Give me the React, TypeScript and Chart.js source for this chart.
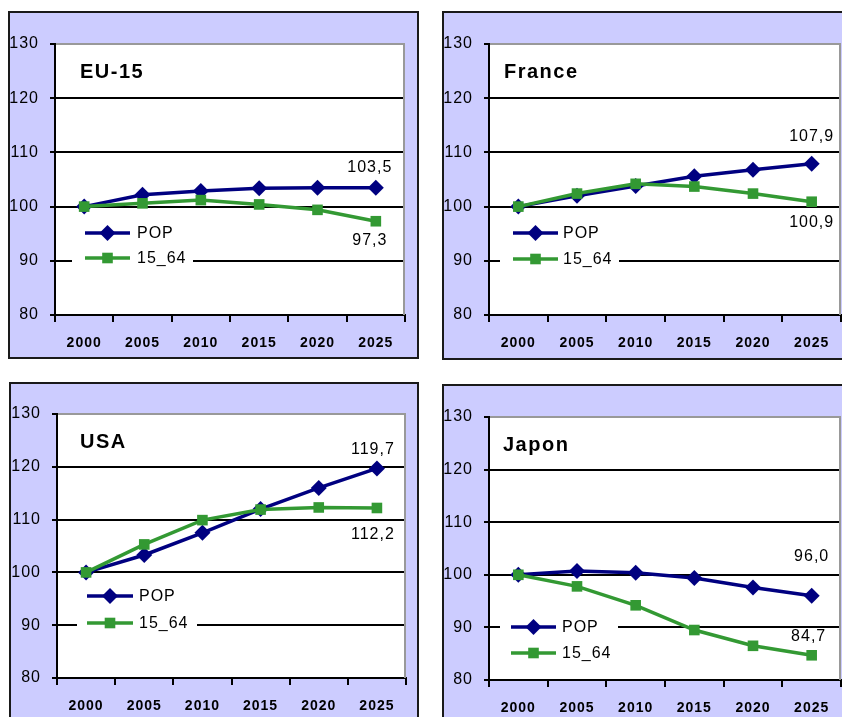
import React, { useEffect, useRef } from 'react';
import { Chart, registerables } from 'chart.js';

Chart.register(...registerables);

// ---- data ----
const years = ['2000', '2005', '2010', '2015', '2020', '2025'];
const seriesNames = ['POP', '15_64'];
const yTicksMin = 80;
const yTicksMax = 130;
const yStep = 10;

const euPop = [100, 102.2, 102.9, 103.4, 103.5, 103.5];
const eu1564 = [100, 100.6, 101.2, 100.4, 99.4, 97.3];
const frPop = [100, 102.0, 103.8, 105.6, 106.8, 107.9];
const fr1564 = [100, 102.4, 104.2, 103.7, 102.4, 100.9];
const usPop = [100, 103.3, 107.5, 112.0, 116.0, 119.7];
const us1564 = [100, 105.3, 109.9, 111.9, 112.3, 112.2];
const jpPop = [100, 100.7, 100.4, 99.4, 97.6, 96.0];
const jp1564 = [100, 97.8, 94.2, 89.5, 86.5, 84.7];

const POP_COLOR = '#000080';
const WA_COLOR = '#339933';
const FONT = 'Arial, "Liberation Sans", sans-serif';
const DIAMOND_R = 8;
const SQUARE_R = 7.5;

type PanelCfg = {
  title: string;
  pop: number[];
  wa: number[];
  box: [number, number, number, number]; // left, top, width, height
  plot: [number, number, number, number]; // left, top, right, bottom (page coords)
  titlePos: [number, number];
  legend: { box0: number; box1: number; line0: number; line1: number; text: number; row1: number; row2: number };
  labPop: [number, number];
  labWa: [number, number];
};

const panels: PanelCfg[] = [
  {
    title: 'EU-15', pop: euPop, wa: eu1564,
    box: [8, 11, 411, 348], plot: [55, 44, 405, 315],
    titlePos: [25, 28],
    legend: { box0: 17, box1: 138, line0: 30, line1: 75, text: 82, row1: 189, row2: 214 },
    labPop: [-6, -20], labWa: [-6, 19],
  },
  {
    title: 'France', pop: frPop, wa: fr1564,
    box: [442, 11, 411, 349], plot: [489, 44, 841, 315],
    titlePos: [15, 28],
    legend: { box0: 11, box1: 130, line0: 24, line1: 69, text: 74, row1: 189, row2: 215 },
    labPop: [0, -27], labWa: [0, 21],
  },
  {
    title: 'USA', pop: usPop, wa: us1564,
    box: [9, 382, 410, 340], plot: [57, 414, 406, 678],
    titlePos: [23, 28],
    legend: { box0: 20, box1: 140, line0: 30, line1: 76, text: 82, row1: 182, row2: 209 },
    labPop: [-4, -19], labWa: [-4, 27],
  },
  {
    title: 'Japon', pop: jpPop, wa: jp1564,
    box: [442, 384, 411, 340], plot: [489, 417, 841, 680],
    titlePos: [14, 28],
    legend: { box0: 11, box1: 129, line0: 22, line1: 67, text: 73, row1: 210, row2: 236 },
    labPop: [0, -39], labWa: [-3, -19],
  },
];

function drawMarker(ctx: CanvasRenderingContext2D, style: string, x: number, y: number, color: string) {
  ctx.save();
  ctx.fillStyle = color;
  ctx.beginPath();
  if (style === 'rectRot') {
    const r = DIAMOND_R;
    ctx.moveTo(x - r, y);
    ctx.lineTo(x, y - r);
    ctx.lineTo(x + r, y);
    ctx.lineTo(x, y + r);
  } else {
    const s = SQUARE_R * Math.SQRT1_2;
    ctx.rect(x - s, y - s, 2 * s, 2 * s);
  }
  ctx.closePath();
  ctx.fill();
  ctx.restore();
}

function makePlugin(cfg: PanelCfg) {
  return {
    id: 'decor',
    beforeDraw(chart: any) {
      const { ctx, chartArea: a } = chart;
      ctx.save();
      ctx.fillStyle = '#ffffff';
      ctx.fillRect(a.left, a.top, a.right - a.left, a.bottom - a.top);
      ctx.restore();
      ctx.letterSpacing = '1px';
    },
    beforeDatasetsDraw(chart: any) {
      const { ctx, chartArea: a } = chart;
      ctx.save();
      ctx.strokeStyle = '#999999';
      ctx.lineWidth = 2;
      ctx.beginPath();
      ctx.moveTo(a.right - 1, a.top);
      ctx.lineTo(a.right - 1, a.bottom);
      ctx.stroke();
      // legend box (white, hides grid)
      const L = cfg.legend;
      ctx.fillStyle = '#ffffff';
      ctx.fillRect(a.left + L.box0, a.top + L.row1 - 13, L.box1 - L.box0, L.row2 - L.row1 + 26);
      ctx.restore();
    },
    afterDatasetsDraw(chart: any) {
      const { ctx, chartArea: a } = chart;
      const L = cfg.legend;
      ctx.save();
      ctx.letterSpacing = '1px';
      // legend
      chart.data.datasets.forEach((ds: any, i: number) => {
        const y = a.top + (i === 0 ? L.row1 : L.row2);
        ctx.strokeStyle = ds.borderColor;
        ctx.lineWidth = 3.5;
        ctx.beginPath();
        ctx.moveTo(a.left + L.line0, y);
        ctx.lineTo(a.left + L.line1, y);
        ctx.stroke();
        drawMarker(ctx, ds.pointStyle, a.left + (L.line0 + L.line1) / 2, y, ds.borderColor);
        ctx.fillStyle = '#000';
        ctx.font = `16px ${FONT}`;
        ctx.textAlign = 'left';
        ctx.textBaseline = 'middle';
        ctx.fillText(ds.label, a.left + L.text, y + 1);
      });
      // end value labels
      chart.data.datasets.forEach((ds: any, i: number) => {
        const meta = chart.getDatasetMeta(i);
        const pt = meta.data[meta.data.length - 1];
        const v = ds.data[ds.data.length - 1];
        const txt = v.toFixed(1).replace('.', ',');
        const [dx, dy] = i === 0 ? cfg.labPop : cfg.labWa;
        ctx.fillStyle = '#000';
        ctx.font = `16px ${FONT}`;
        ctx.textAlign = 'center';
        ctx.textBaseline = 'middle';
        ctx.fillText(txt, pt.x + dx, pt.y + dy);
      });
      // title
      ctx.letterSpacing = '1.5px';
      ctx.fillStyle = '#000';
      ctx.font = `bold 20px ${FONT}`;
      ctx.textAlign = 'left';
      ctx.textBaseline = 'middle';
      ctx.fillText(cfg.title, a.left + cfg.titlePos[0], a.top + cfg.titlePos[1]);
      ctx.restore();
    },
  };
}

function Panel({ cfg }: { cfg: PanelCfg }) {
  const ref = useRef<HTMLCanvasElement | null>(null);
  const [bl, bt, bw, bh] = cfg.box;
  const [pl, pt, pr, pb] = cfg.plot;
  useEffect(() => {
    if (!ref.current) return;
    const yw = pl - bl;
    const xh = bt + bh - pb;
    const chart = new Chart(ref.current, {
      type: 'line',
      data: {
        labels: years,
        datasets: [
          {
            label: seriesNames[0],
            data: cfg.pop,
            borderColor: POP_COLOR,
            backgroundColor: POP_COLOR,
            borderWidth: 3.5,
            pointStyle: 'rectRot',
            pointRadius: DIAMOND_R,
            pointBorderWidth: 0,
            pointBackgroundColor: POP_COLOR,
            tension: 0,
            order: 1,
            clip: false,
          },
          {
            label: seriesNames[1],
            data: cfg.wa,
            borderColor: WA_COLOR,
            backgroundColor: WA_COLOR,
            borderWidth: 3.5,
            pointStyle: 'rect',
            pointRadius: SQUARE_R,
            pointBorderWidth: 0,
            pointBackgroundColor: WA_COLOR,
            tension: 0,
            order: 0,
            clip: false,
          },
        ],
      },
      options: {
        animation: false,
        responsive: false,
        maintainAspectRatio: false,
        devicePixelRatio: 1,
        layout: { padding: { left: 0, top: pt - bt, right: bl + bw - pr, bottom: 0 } },
        plugins: { legend: { display: false }, tooltip: { enabled: false }, title: { display: false } },
        scales: {
          x: {
            type: 'category',
            offset: true,
            grid: { display: true, drawOnChartArea: false, drawTicks: true, tickLength: 7, offset: true, color: '#000', lineWidth: 2 },
            border: { display: true, color: '#000', width: 2 },
            ticks: { color: '#000', font: { family: FONT, size: 14, weight: 'bold' }, padding: 13, maxRotation: 0, autoSkip: false },
            afterFit: (s: any) => { s.height = xh; },
          },
          y: {
            min: yTicksMin,
            max: yTicksMax,
            ticks: { stepSize: yStep, color: '#000', font: { family: FONT, size: 16 }, padding: 11 },
            grid: {
              color: (c: any) => (c.tick && c.tick.value === yTicksMax ? '#999999' : '#000000'),
              tickColor: '#000',
              lineWidth: 2,
              tickLength: 5,
            },
            border: { display: true, color: '#000', width: 2 },
            afterFit: (s: any) => { s.width = yw; },
          },
        },
      } as any,
      plugins: [makePlugin(cfg)],
    });
    return () => chart.destroy();
  }, [cfg]);
  return (
    <div
      style={{
        position: 'absolute', left: bl, top: bt, width: bw, height: bh,
        boxSizing: 'border-box', border: '2px solid #1a1a1a', background: '#ccccff',
      }}
    >
      <canvas
        ref={ref}
        width={bw}
        height={bh}
        style={{ position: 'absolute', left: -2, top: -2, width: bw, height: bh }}
      />
    </div>
  );
}

export default function App() {
  useEffect(() => {
    document.body.style.margin = '0';
  }, []);
  return (
    <div style={{ position: 'relative', width: 842, height: 717, overflow: 'hidden', background: '#fff' }}>
      {panels.map((p) => (
        <Panel key={p.title} cfg={p} />
      ))}
    </div>
  );
}
